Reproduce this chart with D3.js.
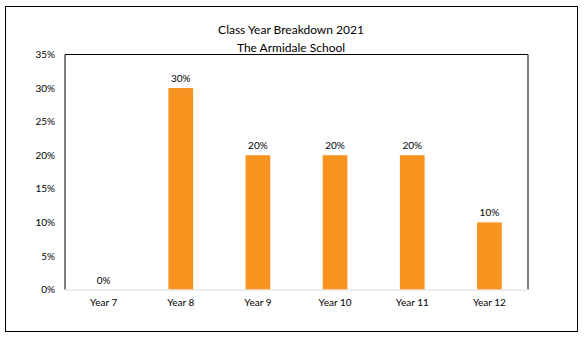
<!DOCTYPE html>
<html><head><meta charset="utf-8">
<script src="https://cdn.jsdelivr.net/npm/d3@7"></script>
<style>body{margin:0;background:#fff;}svg{display:block;font-family:Lato,"Open Sans",sans-serif;}</style>
</head><body><svg id="c" width="584" height="339"></svg>
<script>
const categories = ["Year 7","Year 8","Year 9","Year 10","Year 11","Year 12"];
const values = [0, 0.30, 0.20, 0.20, 0.20, 0.10];
const yTicks = [0,0.05,0.10,0.15,0.20,0.25,0.30,0.35];
const titleLines = ["Class Year Breakdown 2021","The Armidale School"];

const svg = d3.select("#c");
const m = {left:65, right:528, top:54.5, bottom:289.5};
svg.append("rect").attr("x",5.5).attr("y",6.5).attr("width",572).attr("height",325)
  .attr("fill","#fff").attr("stroke","#000").attr("stroke-width",1);

const x = d3.scaleBand().domain(categories).range([m.left,m.right]).paddingInner(0.68).paddingOuter(0.34);
const y = d3.scaleLinear().domain([0,0.35]).range([m.bottom,m.top]);
const fmt = d3.format(".0%");

// plot area border (top, left, right)
svg.append("path").attr("d",`M${m.left},${m.bottom}V${m.top}H${m.right}V${m.bottom}`)
  .attr("fill","none").attr("stroke","#000").attr("stroke-width",1);

// bars
svg.selectAll("rect.bar").data(values).enter().append("rect").attr("class","bar")
  .attr("x",(d,i)=>x(categories[i])).attr("width",x.bandwidth())
  .attr("y",d=>y(d)).attr("height",d=>y(0)-y(d)).attr("fill","#F7931E");

// data labels
svg.selectAll("text.lbl").data(values).enter().append("text").attr("class","lbl")
  .attr("x",(d,i)=>x(categories[i])+x.bandwidth()/2).attr("y",d=>y(d)-6)
  .attr("text-anchor","middle").attr("font-size",10).attr("fill","#000").text(d=>fmt(d));

// y axis
const ya = svg.append("g").attr("transform",`translate(${m.left},0)`)
  .call(d3.axisLeft(y).tickValues(yTicks).tickFormat(fmt).tickSize(0).tickPadding(10));
ya.select(".domain").remove();
ya.selectAll("text").attr("font-size",10).attr("fill","#000").attr("font-family","Lato,'Open Sans',sans-serif");

// x axis
const xa = svg.append("g").attr("transform",`translate(0,${m.bottom})`)
  .call(d3.axisBottom(x).tickSize(0).tickPadding(9));
xa.select(".domain").attr("stroke","#d9d9d9");
xa.selectAll("text").attr("font-size",10).attr("fill","#000").attr("font-family","Lato,'Open Sans',sans-serif");

// title
svg.selectAll("text.title").data(titleLines).enter().append("text").attr("class","title")
  .attr("x",291).attr("y",(d,i)=>34+i*18).attr("text-anchor","middle")
  .attr("font-size",12).attr("fill","#000").text(d=>d);
</script></body></html>
